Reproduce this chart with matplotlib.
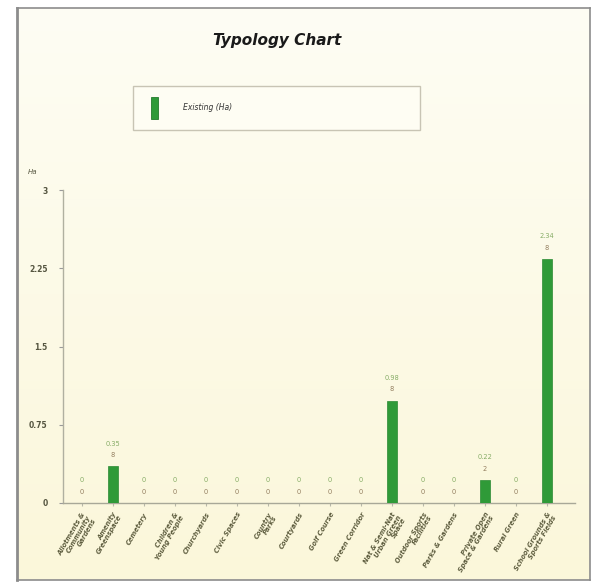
import matplotlib
matplotlib.use("Agg")
import matplotlib.pyplot as plt
from matplotlib.patches import Rectangle
from matplotlib.colors import LinearSegmentedColormap
import numpy as np

categories = [
    "Allotments &\nCommunity\nGardens", "Amenity\nGreenspace", "Cemetery",
    "Children &\nYoung People", "Churchyards", "Civic Spaces",
    "Country\nParks", "Courtyards", "Golf Course", "Green Corridor",
    "Nat & Semi-Nat\nUrban Green\nSpace", "Outdoor Sports\nFacilities",
    "Parks & Gardens", "Private Open\nSpace & Gardens", "Rural Green",
    "School Grounds &\nSports Fields",
]
values = [0, 0.35, 0, 0, 0, 0, 0, 0, 0, 0, 0.98, 0, 0, 0.22, 0, 2.34]
counts = ["0", "8", "0", "0", "0", "0", "0", "0", "0", "0", "8", "0", "0", "2", "0", "8"]
yticks = [0, 0.75, 1.5, 2.25, 3]
ytick_labels = ["0", "0.75", "1.5", "2.25", "3"]

W, H = 596, 585
fig = plt.figure(figsize=(W / 100, H / 100), dpi=100, facecolor="white")

# background panel with soft gradient
bg = fig.add_axes([17 / W, 1 - 580 / H, (590 - 17) / W, (580 - 8) / H], zorder=0)
grad = np.linspace(0, 1, 256).reshape(-1, 1)
cmap = LinearSegmentedColormap.from_list("cr", ["#fefdf4", "#fbf7da"])
bg.imshow(grad, aspect="auto", cmap=cmap, extent=[0, 1, 0, 1], origin="upper")
bg.set_xlim(0, 1); bg.set_ylim(0, 1)
bg.set_xticks([]); bg.set_yticks([])
for s in bg.spines.values():
    s.set_color("#8c8c8c"); s.set_linewidth(1.2)
bg.spines["left"].set_linewidth(2.0)

ax = fig.add_axes([63 / W, 1 - 503 / H, (575 - 63) / W, (503 - 190) / H], zorder=2)
ax.patch.set_alpha(0)
x = np.arange(len(categories))
ax.bar(x, values, width=0.32, color="#2f9a38", edgecolor="#2a8a33", linewidth=0.5, zorder=3)
ax.set_xlim(-0.6, 15.9)
ax.set_ylim(0, 3)
ax.set_yticks(yticks)
ax.set_yticklabels(ytick_labels, fontsize=5.5, fontweight="bold", color="#555540")
ax.set_xticks(x)
ax.set_xticklabels(categories, rotation=60, ha="right", va="top", rotation_mode="anchor",
                   fontsize=4.8, fontweight="bold", fontstyle="italic", color="#5d5c3e",
                   linespacing=0.95)
ax.tick_params(axis="x", length=2, color="#b8b8a8", pad=4)
ax.tick_params(axis="y", length=3, color="#9a9a9a", pad=8)
for s in ["top", "right"]:
    ax.spines[s].set_visible(False)
ax.spines["left"].set_color("#b0b0a0")
ax.spines["bottom"].set_color("#a8a898")
ax.spines["left"].set_linewidth(1.0)
ax.spines["bottom"].set_linewidth(1.0)

for xi, v, c in zip(x, values, counts):
    base = v + 0.08
    ax.text(xi, base + 0.11, f"{v:g}", ha="center", va="bottom", fontsize=4.8,
            color="#86ac66", zorder=4)
    ax.text(xi, base, c, ha="center", va="bottom", fontsize=4.8,
            color="#927d5e", zorder=4)

ax.text(-0.06, 1.05, "Ha", transform=ax.transAxes, fontsize=5, fontstyle="italic",
        color="#555540", ha="center")

fig.text(277 / W, 1 - 41 / H, "Typology Chart", ha="center", va="center",
         fontsize=11, fontweight="bold", fontstyle="italic", color="#1a1a1a")

leg = Rectangle((133 / W, 1 - 130 / H), (420 - 133) / W, (130 - 86) / H,
                transform=fig.transFigure, facecolor="#fefdf3", edgecolor="#c8c4b4",
                linewidth=1.0, zorder=3)
fig.patches.append(leg)
sw = Rectangle((151 / W, 1 - 119 / H), 7 / W, 22 / H, transform=fig.transFigure,
               facecolor="#2f9a38", edgecolor="#237a2b", linewidth=0.6, zorder=4)
fig.patches.append(sw)
fig.text(183 / W, 1 - 108 / H, "Existing (Ha)", ha="left", va="center", fontsize=5.5,
         fontstyle="italic", color="#333333", zorder=5)

fig.savefig("out.png", dpi=100, facecolor="white")
